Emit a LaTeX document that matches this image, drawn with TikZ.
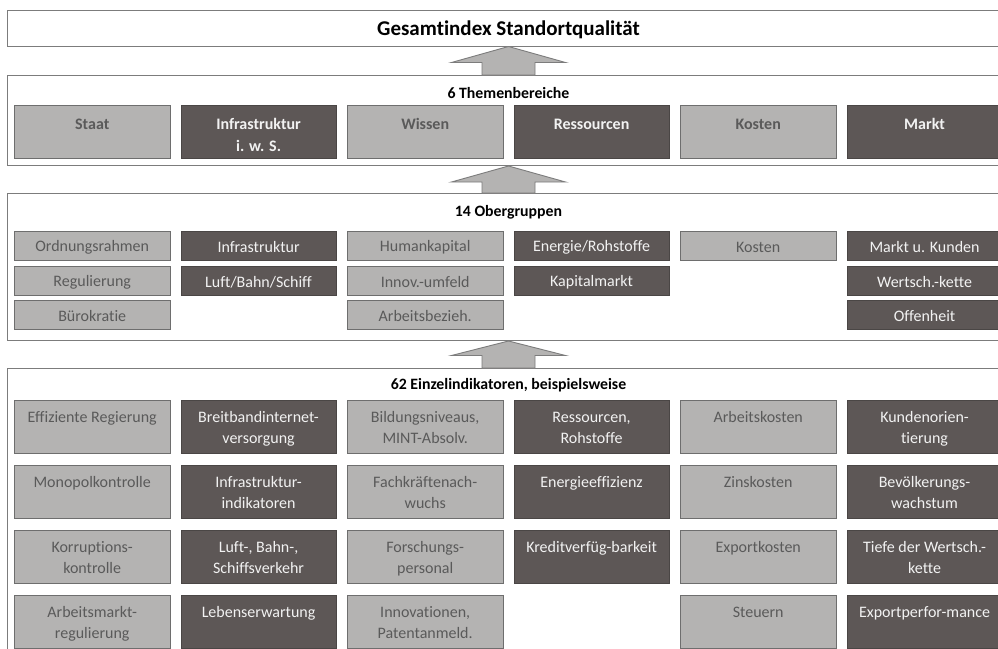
\documentclass[tikz,border=0pt]{standalone}
\usepackage{fontspec}
\setmainfont{Carlito}[Ligatures={NoCommon}]
\definecolor{lightfill}{HTML}{B4B3B2}
\definecolor{darkfill}{HTML}{5D5756}
\definecolor{lighttext}{HTML}{5A5A5A}
\definecolor{darktext}{HTML}{F2F2F2}
\definecolor{frameline}{HTML}{7C7C7C}
\definecolor{boxline}{HTML}{6E6E6E}
\tikzset{
  frame/.style={draw=frameline, line width=1.3pt, fill=white, rectangle, inner sep=0pt, anchor=north west},
  lbox/.style={draw=boxline, line width=0.9pt, fill=lightfill, rectangle, inner sep=0pt, minimum width=155.5pt, anchor=north west},
  dbox/.style={draw=darkfill!80!black, line width=0.6pt, fill=darkfill, rectangle, inner sep=0pt, minimum width=155.5pt, anchor=north west},
  lboxtext/.style={text=lighttext, inner sep=0pt, align=center, anchor=north},
  dboxtext/.style={text=darktext, inner sep=0pt, align=center, anchor=north},
  titletext/.style={font=\fontsize{15.8}{19}\selectfont\bfseries, text=black, inner sep=0pt},
  uparrow/.style={draw=frameline, line width=0.9pt, fill=lightfill},
}
% name, column, top, height, style (lbox/dbox), font, text shift, text
\newcommand\mkcell[8]{%
  \node[#5, minimum height=#4pt] (#1) at ({14+166.5*#2},-#3) {};
  \node[#5text, font=#6] (#1t) at ([yshift=-#7pt]#1.north) {\strut #8};
}
\newcommand\mkflat[5]{%
  \node[#4, minimum height=29pt] (#1) at ({14+166.5*#2},-#3) {};
  \node[#4text, anchor=center, font=\fontsize{16}{19}\selectfont] (#1t) at ([yshift=-1.5pt]#1.center) {#5};
}
% arrow: name prefix, tip y, base y, bottom y
\newcommand\mkarrow[4]{%
  \coordinate (#1tip) at (508.5,-#2);
  \coordinate (#1bot) at (508.5,-#4);
  \filldraw[uparrow] (#1tip) -- (565.5,-#3) -- (535,-#3) -- (535,-#4) -- (482,-#4) -- (482,-#3) -- (451.5,-#3) -- cycle;
}
\begin{document}
\begin{tikzpicture}[x=1pt,y=1pt]
\useasboundingbox (0,0) rectangle (998,-648);
\fill[white] (0,0) rectangle (998,-648);
% frames
\node[frame, minimum width=1010pt, minimum height=36pt] (f1) at (7,-10) {};
\node[frame, minimum width=1010pt, minimum height=90pt] (f2) at (7,-75) {};
\node[frame, minimum width=1010pt, minimum height=147pt] (f3) at (7,-193) {};
\node[frame, minimum width=1010pt, minimum height=300pt] (f4) at (7,-368) {};
% arrows
\mkarrow{a1}{46.5}{62.5}{75}
\mkarrow{a2}{166}{182}{193}
\mkarrow{a3}{341}{355.5}{368}
% titles
\node[titletext, font=\fontsize{21}{25}\selectfont\bfseries] (t1) at (508.5,-30) {Gesamtindex Standortqualität};
\node[titletext] (t2) at (508.5,-93) {6 Themenbereiche};
\node[titletext] (t3) at (508.5,-212) {14 Obergruppen};
\node[titletext] (t4) at (508.5,-385) {62 Einzelindikatoren, beispielsweise};
% section 2
\def\fB{\fontsize{16}{22}\selectfont\bfseries}
\mkcell{s2a}{0}{105}{53}{lbox}{\fB}{8.5}{Staat}
\mkcell{s2b}{1}{105}{53}{dbox}{\fB}{8.5}{Infrastruktur\\i. w. S.}
\mkcell{s2c}{2}{105}{53}{lbox}{\fB}{8.5}{Wissen}
\mkcell{s2d}{3}{105}{53}{dbox}{\fB}{8.5}{Ressourcen}
\mkcell{s2e}{4}{105}{53}{lbox}{\fB}{8.5}{Kosten}
\mkcell{s2f}{5}{105}{53}{dbox}{\fB}{8.5}{Markt}
% section 3
\mkflat{s3a1}{0}{231}{lbox}{Ordnungsrahmen}
\mkflat{s3a2}{0}{265.5}{lbox}{Regulierung}
\mkflat{s3a3}{0}{300}{lbox}{Bürokratie}
\mkflat{s3b1}{1}{231}{dbox}{Infrastruktur}
\mkflat{s3b2}{1}{265.5}{dbox}{Luft/Bahn/Schiff}
\mkflat{s3c1}{2}{231}{lbox}{Humankapital}
\mkflat{s3c2}{2}{265.5}{lbox}{Innov.-umfeld}
\mkflat{s3c3}{2}{300}{lbox}{Arbeitsbezieh.}
\mkflat{s3d1}{3}{231}{dbox}{Energie/Rohstoffe}
\mkflat{s3d2}{3}{265.5}{dbox}{Kapitalmarkt}
\mkflat{s3e1}{4}{231}{lbox}{Kosten}
\mkflat{s3f1}{5}{231}{dbox}{Markt u. Kunden}
\mkflat{s3f2}{5}{265.5}{dbox}{Wertsch.-kette}
\mkflat{s3f3}{5}{300}{dbox}{Offenheit}
% section 4
\def\fR{\fontsize{16}{21}\selectfont}
\mkcell{s4a1}{0}{400}{53}{lbox}{\fR}{7.8}{Effiziente Regierung}
\mkcell{s4a2}{0}{465}{53}{lbox}{\fR}{7.8}{Monopolkontrolle}
\mkcell{s4a3}{0}{530}{53}{lbox}{\fR}{7.8}{Korruptions-\\kontrolle}
\mkcell{s4a4}{0}{595}{53}{lbox}{\fR}{7.8}{Arbeitsmarkt-\\regulierung}
\mkcell{s4b1}{1}{400}{53}{dbox}{\fR}{7.8}{Breitbandinternet-\\versorgung}
\mkcell{s4b2}{1}{465}{53}{dbox}{\fR}{7.8}{Infrastruktur-\\indikatoren}
\mkcell{s4b3}{1}{530}{53}{dbox}{\fR}{7.8}{Luft-, Bahn-,\\Schiffsverkehr}
\mkcell{s4b4}{1}{595}{53}{dbox}{\fR}{7.8}{Lebenserwartung}
\mkcell{s4c1}{2}{400}{53}{lbox}{\fR}{7.8}{Bildungsniveaus,\\MINT-Absolv.}
\mkcell{s4c2}{2}{465}{53}{lbox}{\fR}{7.8}{Fachkräftenach-\\wuchs}
\mkcell{s4c3}{2}{530}{53}{lbox}{\fR}{7.8}{Forschungs-\\personal}
\mkcell{s4c4}{2}{595}{53}{lbox}{\fR}{7.8}{Innovationen,\\Patentanmeld.}
\mkcell{s4d1}{3}{400}{53}{dbox}{\fR}{7.8}{Ressourcen,\\Rohstoffe}
\mkcell{s4d2}{3}{465}{53}{dbox}{\fR}{7.8}{Energieeffizienz}
\mkcell{s4d3}{3}{530}{53}{dbox}{\fR}{7.8}{Kreditverfüg-barkeit}
\mkcell{s4e1}{4}{400}{53}{lbox}{\fR}{7.8}{Arbeitskosten}
\mkcell{s4e2}{4}{465}{53}{lbox}{\fR}{7.8}{Zinskosten}
\mkcell{s4e3}{4}{530}{53}{lbox}{\fR}{7.8}{Exportkosten}
\mkcell{s4e4}{4}{595}{53}{lbox}{\fR}{7.8}{Steuern}
\mkcell{s4f1}{5}{400}{53}{dbox}{\fR}{7.8}{Kundenorien-\\tierung}
\mkcell{s4f2}{5}{465}{53}{dbox}{\fR}{7.8}{Bevölkerungs-\\wachstum}
\mkcell{s4f3}{5}{530}{53}{dbox}{\fR}{7.8}{Tiefe der Wertsch.-\\kette}
\mkcell{s4f4}{5}{595}{53}{dbox}{\fR}{7.8}{Exportperfor-mance}
\end{tikzpicture}
\end{document}
